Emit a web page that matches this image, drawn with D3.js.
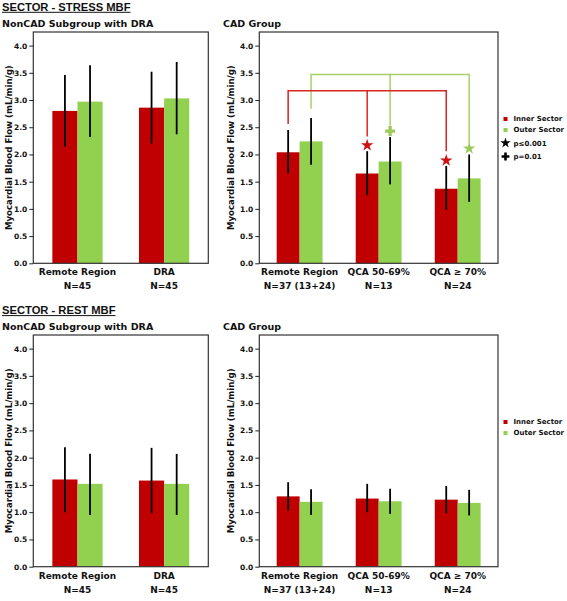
<!DOCTYPE html>
<html><head><meta charset="utf-8">
<script src="https://cdn.jsdelivr.net/npm/d3@7"></script>
<style>body{margin:0;background:#fff}svg{display:block}</style>
</head><body>
<script>
// ---- data ----
const nonCadCats = ["Remote Region", "DRA"];
const nonCadN = ["N=45", "N=45"];
const cadCats = ["Remote Region", "QCA 50-69%", "QCA \u2265 70%"];
const cadN = ["N=37 (13+24)", "N=13", "N=24"];
const yTicks = [0, 0.5, 1.0, 1.5, 2.0, 2.5, 3.0, 3.5, 4.0];
const seriesNames = ["Inner Sector", "Outer Sector"];

// Stress, NonCAD
const stressNonCadInner = [2.80, 2.86], stressNonCadInnerLo = [2.14, 2.20], stressNonCadInnerHi = [3.46, 3.52];
const stressNonCadOuter = [2.97, 3.03], stressNonCadOuterLo = [2.32, 2.37], stressNonCadOuterHi = [3.64, 3.70];
// Stress, CAD
const stressCadInner = [2.04, 1.65, 1.37], stressCadInnerLo = [1.65, 1.25, 0.98], stressCadInnerHi = [2.45, 2.06, 1.79];
const stressCadOuter = [2.24, 1.87, 1.56], stressCadOuterLo = [1.81, 1.45, 1.13], stressCadOuterHi = [2.67, 2.32, 2.00];
// Rest, NonCAD
const restNonCadInner = [1.60, 1.58], restNonCadInnerLo = [1.00, 0.98], restNonCadInnerHi = [2.19, 2.18];
const restNonCadOuter = [1.52, 1.52], restNonCadOuterLo = [0.95, 0.95], restNonCadOuterHi = [2.07, 2.07];
// Rest, CAD
const restCadInner = [1.29, 1.25, 1.23], restCadInnerLo = [1.03, 1.00, 0.98], restCadInnerHi = [1.55, 1.52, 1.48];
const restCadOuter = [1.19, 1.20, 1.17], restCadOuterLo = [0.95, 0.97, 0.94], restCadOuterHi = [1.42, 1.43, 1.41];

// significance brackets (stress CAD)
const innerBracketLevel = 3.17, outerBracketLevel = 3.47;
const innerBracketEnds = [2.56, 2.33, 2.06];
const outerBracketEnds = [2.84, 2.53, 2.20];
const innerMarkers = [null, "star", "star"], innerMarkerAt = [null, 2.17, 1.89];
const outerMarkers = [null, "plus", "star"], outerMarkerAt = [null, 2.43, 2.11];
const legendSig = ["p\u22640.001", "p=0.01"];

// ---- drawing ----
const RED = "#c00000", GREEN = "#92d050";
const BRED = "#d82424", BGREEN = "#a8d06a";
const W = 567, H = 601;
const svg = d3.select("body").append("svg").attr("width", W).attr("height", H);
const HEAVY = "'DejaVu Sans', sans-serif";

function title(txt, y) {
  const t = svg.append("text").attr("x", 2).attr("y", y).text(txt)
    .attr("font-family", "'Liberation Sans', Arial, sans-serif").attr("font-weight", "bold")
    .attr("font-size", 11.2).attr("fill", "#111");
  const w = t.node().getComputedTextLength();
  svg.append("line").attr("x1", 2).attr("x2", 2 + w).attr("y1", y + 1.6).attr("y2", y + 1.6)
    .attr("stroke", "#111").attr("stroke-width", 1);
}

function panel(o) {
  const g = svg.append("g");
  const y = d3.scaleLinear().domain([0, 4.25]).range([o.y1, o.y0]);
  const x = d3.scaleBand().domain(o.cats).range([o.x0, o.x1]).paddingInner(0.42).paddingOuter(0.22);
  const xs = d3.scaleBand().domain([0, 1]).range([0, x.bandwidth()]);

  g.append("text").attr("x", o.subX).attr("y", o.y0 - 5.5).text(o.sub)
    .attr("font-family", HEAVY).attr("font-weight", "bold").attr("font-size", 9.5).attr("fill", "#111");

  // bars
  const series = [
    {m: o.inner, lo: o.innerLo, hi: o.innerHi, c: RED},
    {m: o.outer, lo: o.outerLo, hi: o.outerHi, c: GREEN}
  ];
  series.forEach((s, si) => {
    g.selectAll(null).data(o.cats).enter().append("rect")
      .attr("x", d => x(d) + xs(si)).attr("width", xs.bandwidth())
      .attr("y", (d, i) => y(s.m[i])).attr("height", (d, i) => y(0) - y(s.m[i]))
      .attr("fill", s.c);
  });
  series.forEach((s, si) => {
    g.selectAll(null).data(o.cats).enter().append("line")
      .attr("x1", d => x(d) + xs(si) + xs.bandwidth() / 2).attr("x2", d => x(d) + xs(si) + xs.bandwidth() / 2)
      .attr("y1", (d, i) => y(s.lo[i])).attr("y2", (d, i) => y(s.hi[i]))
      .attr("stroke", "#000").attr("stroke-width", 1.8);
  });

  // brackets
  if (o.brackets) {
    o.brackets.forEach(b => {
      const cx = d => x(d) + xs(b.si) + xs.bandwidth() / 2;
      const xsVals = o.cats.map(cx);
      g.append("line").attr("x1", d3.min(xsVals)).attr("x2", d3.max(xsVals))
        .attr("y1", y(b.level)).attr("y2", y(b.level)).attr("stroke", b.c).attr("stroke-width", 1.5);
      g.selectAll(null).data(o.cats).enter().append("line")
        .attr("x1", cx).attr("x2", cx).attr("y1", y(b.level) - 0.75).attr("y2", (d, i) => y(b.ends[i]))
        .attr("stroke", b.c).attr("stroke-width", 1.5);
      g.selectAll(null).data(o.cats.filter((d, i) => b.markers[i])).enter().append("path")
        .attr("transform", d => { const i = o.cats.indexOf(d); return `translate(${cx(d)},${y(b.markerAt[i])})`; })
        .attr("d", d => { const i = o.cats.indexOf(d);
          return b.markers[i] === "star" ? d3.symbol(d3.symbolStar, 48)() : d3.symbol(d3.symbolCross, 55)(); })
        .attr("fill", b.mc);
    });
  }

  // frame
  g.append("rect").attr("x", o.x0).attr("y", o.y0).attr("width", o.x1 - o.x0).attr("height", o.y1 - o.y0)
    .attr("fill", "none").attr("stroke", "#333").attr("stroke-width", 1.2);

  // y axis
  const ax = g.append("g").attr("transform", `translate(${o.x0},0)`)
    .call(d3.axisLeft(y).tickValues(yTicks).tickFormat(d3.format(".1f")).tickSizeInner(4).tickSizeOuter(0).tickPadding(2));
  ax.select(".domain").remove();
  ax.selectAll("line").attr("stroke", "#222");
  ax.selectAll("text").attr("font-family", HEAVY).attr("font-weight", "bold").attr("font-size", 7.5).attr("fill", "#111");

  g.append("text").attr("transform", `translate(${o.ylabX},${(o.y0 + o.y1) / 2}) rotate(-90)`)
    .attr("text-anchor", "middle").text("Myocardial Blood Flow (mL/min/g)")
    .attr("font-family", HEAVY).attr("font-weight", "bold").attr("font-size", 8.6).attr("fill", "#111");

  // x category labels
  g.selectAll(null).data(o.cats).enter().append("text")
    .attr("x", d => x(d) + x.bandwidth() / 2).attr("y", o.y1 + 12).attr("text-anchor", "middle").text(d => d)
    .attr("font-family", HEAVY).attr("font-weight", "bold").attr("font-size", 9).attr("fill", "#111");
  g.selectAll(null).data(o.ns).enter().append("text")
    .attr("x", (d, i) => x(o.cats[i]) + x.bandwidth() / 2).attr("y", o.y1 + 26).attr("text-anchor", "middle").text(d => d)
    .attr("font-family", HEAVY).attr("font-weight", "bold").attr("font-size", 9).attr("fill", "#111");

  // legend
  if (o.legend) {
    const lx = 503.5, ly = o.y0 + 85;
    const colors = [RED, GREEN];
    seriesNames.forEach((n, i) => {
      svg.append("rect").attr("x", lx).attr("y", ly + i * 11).attr("width", 4).attr("height", 4).attr("fill", colors[i]);
      svg.append("text").attr("x", lx + 10).attr("y", ly + i * 11 + 4.3).text(n)
        .attr("font-family", HEAVY).attr("font-weight", "bold").attr("font-size", 7).attr("fill", "#111");
    });
    if (o.sigLegend) {
      const syms = [d3.symbol(d3.symbolStar, 34)(), d3.symbol(d3.symbolCross, 34)()];
      legendSig.forEach((n, i) => {
        svg.append("path").attr("transform", `translate(${lx + 2},${ly + 26 + i * 13.5})`).attr("d", syms[i]).attr("fill", "#000");
        svg.append("text").attr("x", lx + 10).attr("y", ly + 28.5 + i * 13.5).text(n)
          .attr("font-family", HEAVY).attr("font-weight", "bold").attr("font-size", 7).attr("fill", "#111");
      });
    }
  }
}

title("SECTOR - STRESS MBF", 10.7);
title("SECTOR - REST MBF", 314);

panel({x0: 33.3, x1: 208.3, y0: 32, y1: 263.3, cats: nonCadCats, ns: nonCadN, sub: "NonCAD Subgroup with DRA", subX: 2, ylabX: 11.5,
  inner: stressNonCadInner, innerLo: stressNonCadInnerLo, innerHi: stressNonCadInnerHi,
  outer: stressNonCadOuter, outerLo: stressNonCadOuterLo, outerHi: stressNonCadOuterHi});
panel({x0: 259.3, x1: 498, y0: 32, y1: 263.3, cats: cadCats, ns: cadN, sub: "CAD Group", subX: 223, ylabX: 234,
  inner: stressCadInner, innerLo: stressCadInnerLo, innerHi: stressCadInnerHi,
  outer: stressCadOuter, outerLo: stressCadOuterLo, outerHi: stressCadOuterHi,
  legend: true, sigLegend: true,
  brackets: [
    {si: 1, level: outerBracketLevel, ends: outerBracketEnds, markers: outerMarkers, markerAt: outerMarkerAt, c: BGREEN, mc: "#9cc95c"},
    {si: 0, level: innerBracketLevel, ends: innerBracketEnds, markers: innerMarkers, markerAt: innerMarkerAt, c: BRED, mc: "#cc1111"}
  ]});
panel({x0: 33.3, x1: 208.3, y0: 335, y1: 566.7, cats: nonCadCats, ns: nonCadN, sub: "NonCAD Subgroup with DRA", subX: 2, ylabX: 11.5,
  inner: restNonCadInner, innerLo: restNonCadInnerLo, innerHi: restNonCadInnerHi,
  outer: restNonCadOuter, outerLo: restNonCadOuterLo, outerHi: restNonCadOuterHi});
panel({x0: 259.3, x1: 498, y0: 335, y1: 566.7, cats: cadCats, ns: cadN, sub: "CAD Group", subX: 223, ylabX: 234,
  inner: restCadInner, innerLo: restCadInnerLo, innerHi: restCadInnerHi,
  outer: restCadOuter, outerLo: restCadOuterLo, outerHi: restCadOuterHi,
  legend: true, sigLegend: false});
</script>
</body></html>
